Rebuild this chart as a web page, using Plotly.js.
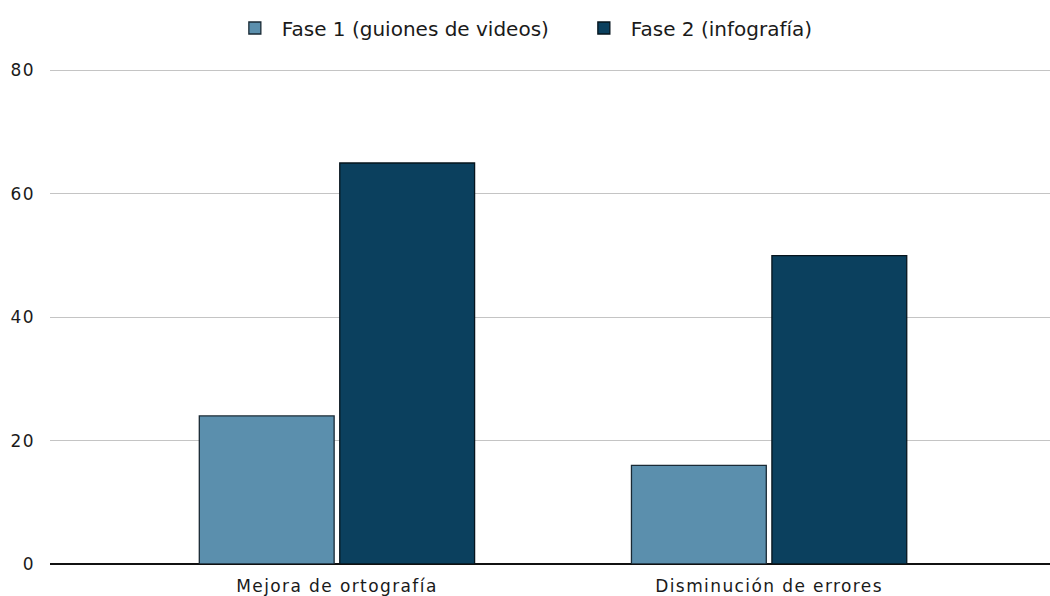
<!DOCTYPE html>
<html>
<head>
<meta charset="utf-8">
<script src="https://cdn.plot.ly/plotly-3.0.1.min.js"></script>
<style>
html,body{margin:0;padding:0;background:#fff;}
#chart{width:1050px;height:596px;}
#chart .xtick text, #chart .ytick text{letter-spacing:1.4px;}
</style>
</head>
<body>
<div id="chart"></div>
<script>
const categories = ["Mejora de ortografía", "Disminución de errores"];
const fase1 = [24, 16];
const fase2 = [65, 50];
const seriesNames = ["Fase 1 (guiones de videos)", "Fase 2 (infografía)"];
const yTicks = [0, 20, 40, 60, 80];

const font = {family: "DejaVu Sans, Verdana, sans-serif", size: 17, color: "#1a1a1a"};
const legendFont = {family: "DejaVu Sans, Verdana, sans-serif", size: 20, color: "#1a1a1a"};
const traces = [
  {type: "bar", name: seriesNames[0], x: categories, y: fase1,
   marker: {color: "#5b8fad", line: {color: "#1a2a35", width: 1.3}}},
  {type: "bar", name: seriesNames[1], x: categories, y: fase2,
   marker: {color: "#0b405e", line: {color: "#06141d", width: 1.3}}}
];
const layout = {
  width: 1050, height: 596,
  margin: {l: 50, r: 0, t: 68, b: 32},
  paper_bgcolor: "#fff", plot_bgcolor: "#fff",
  font: font,
  barmode: "group", bargap: 0.35, bargroupgap: 0.04,
  showlegend: true,
  legend: {orientation: "h", xref: "container", yref: "container", x: 0.217, y: 0.953,
           xanchor: "left", yanchor: "middle", font: legendFont, itemwidth: 44,
           entrywidth: 290, entrywidthmode: "pixels"},
  xaxis: {type: "category", range: [-0.664, 1.65], showgrid: false, zeroline: false,
          showline: false, ticks: "", tickfont: font, ticklabelstandoff: 10, fixedrange: true},
  yaxis: {range: [0, 80.4], tickvals: yTicks, showgrid: true, gridcolor: "#c4c4c4", gridwidth: 1.2,
          zeroline: true, zerolinecolor: "#111", zerolinewidth: 2, showline: false,
          ticks: "", tickfont: font, ticklabelstandoff: 14}
};
Plotly.newPlot("chart", traces, layout, {displayModeBar: false, staticPlot: true});
</script>
</body>
</html>
